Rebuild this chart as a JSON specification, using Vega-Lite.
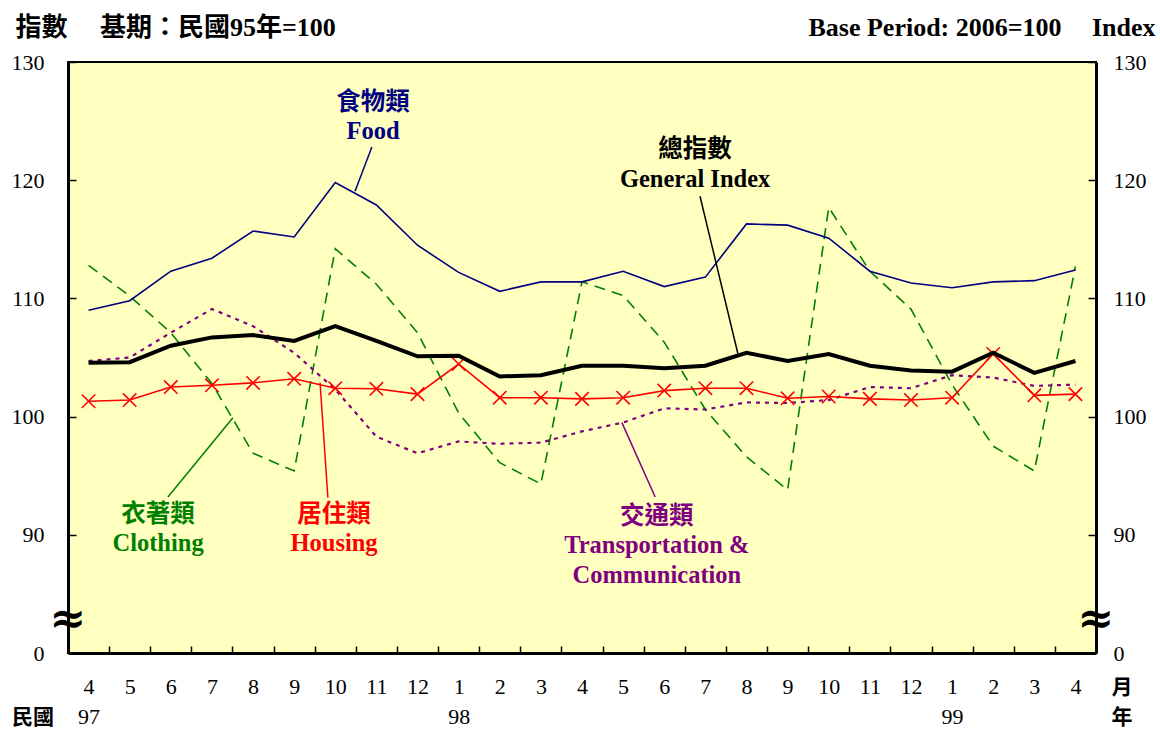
{
  "$schema": "https://vega.github.io/schema/vega-lite/v6.json",
  "width": 1028,
  "height": 591,
  "autosize": {"type": "none"},
  "padding": {"left": 68, "top": 62, "right": 64, "bottom": 78},
  "background": "white",
  "config": {
    "view": {"fill": "#FFFFC0", "stroke": "#000000", "strokeWidth": 2},
    "font": "Liberation Serif",
    "axis": {"grid": false, "labelFont": "Liberation Serif", "labelFontSize": 22, "labelColor": "#000000", "tickColor": "#000000", "tickWidth": 1.5, "domainColor": "#000000", "domainWidth": 3}
  },
  "datasets": {
    "cpi": [
      {"i": 0, "food": 109.0, "general": 104.55, "clothing": 112.8, "housing": 101.3, "transport": 104.7},
      {"i": 1, "food": 109.8, "general": 104.6, "clothing": 110.2, "housing": 101.4, "transport": 105.0},
      {"i": 2, "food": 112.3, "general": 106.0, "clothing": 107.1, "housing": 102.5, "transport": 107.1},
      {"i": 3, "food": 113.4, "general": 106.7, "clothing": 102.8, "housing": 102.65, "transport": 109.1},
      {"i": 4, "food": 115.7, "general": 106.9, "clothing": 96.9, "housing": 102.85, "transport": 107.65},
      {"i": 5, "food": 115.2, "general": 106.4, "clothing": 95.4, "housing": 103.2, "transport": 105.4},
      {"i": 6, "food": 119.8, "general": 107.65, "clothing": 114.2, "housing": 102.4, "transport": 102.3},
      {"i": 7, "food": 117.9, "general": 106.4, "clothing": 111.2, "housing": 102.35, "transport": 98.3},
      {"i": 8, "food": 114.5, "general": 105.1, "clothing": 107.1, "housing": 101.9, "transport": 96.9},
      {"i": 9, "food": 112.2, "general": 105.15, "clothing": 100.3, "housing": 104.45, "transport": 97.9},
      {"i": 10, "food": 110.6, "general": 103.4, "clothing": 96.1, "housing": 101.6, "transport": 97.7},
      {"i": 11, "food": 111.4, "general": 103.5, "clothing": 94.3, "housing": 101.6, "transport": 97.8},
      {"i": 12, "food": 111.4, "general": 104.3, "clothing": 111.4, "housing": 101.5, "transport": 98.75},
      {"i": 13, "food": 112.3, "general": 104.3, "clothing": 110.25, "housing": 101.6, "transport": 99.5},
      {"i": 14, "food": 111.0, "general": 104.1, "clothing": 106.3, "housing": 102.2, "transport": 100.7},
      {"i": 15, "food": 111.8, "general": 104.3, "clothing": 100.6, "housing": 102.4, "transport": 100.6},
      {"i": 16, "food": 116.3, "general": 105.4, "clothing": 96.6, "housing": 102.4, "transport": 101.2},
      {"i": 17, "food": 116.2, "general": 104.7, "clothing": 93.8, "housing": 101.55, "transport": 101.15},
      {"i": 18, "food": 115.1, "general": 105.3, "clothing": 117.7, "housing": 101.7, "transport": 101.4},
      {"i": 19, "food": 112.3, "general": 104.3, "clothing": 112.3, "housing": 101.5, "transport": 102.5},
      {"i": 20, "food": 111.3, "general": 103.9, "clothing": 109.1, "housing": 101.4, "transport": 102.4},
      {"i": 21, "food": 110.9, "general": 103.8, "clothing": 102.7, "housing": 101.6, "transport": 103.5},
      {"i": 22, "food": 111.4, "general": 105.4, "clothing": 97.5, "housing": 105.3, "transport": 103.3},
      {"i": 23, "food": 111.5, "general": 103.7, "clothing": 95.4, "housing": 101.8, "transport": 102.6},
      {"i": 24, "food": 112.4, "general": 104.7, "clothing": 112.7, "housing": 101.9, "transport": 102.7}
    ]
  },
  "layer": [
    {
      "layer": [
        {
          "data": {"name": "cpi"},
          "mark": {"type": "line", "color": "#008000", "strokeWidth": 1.6, "strokeDash": [11, 7]},
          "encoding": {
            "x": {"field": "i", "type": "quantitative", "scale": {"domain": [-0.5, 24.5], "nice": false, "zero": false},
              "axis": {"values": [0,1,2,3,4,5,6,7,8,9,10,11,12,13,14,15,16,17,18,19,20,21,22,23,24],
                "labelExpr": "datum.value == 0 ? ['4', '97'] : datum.value == 9 ? ['1', '98'] : datum.value == 21 ? ['1', '99'] : '' + ((datum.value + 3) % 12 + 1)",
                "tickOffset": 20.56, "labelOffset": -20.56, "tickSize": -7, "labelPadding": 30, "labelBaseline": "top", "labelLineHeight": 30,
                "labelOverlap": false, "labelFlush": false, "labelBound": false, "title": null}},
            "y": {"field": "clothing", "type": "quantitative", "scale": {"domain": [80, 130], "nice": false, "zero": false},
              "axis": {"values": [80, 90, 100, 110, 120, 130], "labelExpr": "datum.value == 80 ? '0' : datum.label",
                "tickSize": -8, "labelPadding": 32, "labelBaseline": "middle",
                "title": "指數\u3000 基期：民國95年=100", "titleAngle": 0, "titleX": -53, "titleY": -35, "titleAlign": "left", "titleBaseline": "middle",
                "titleFont": "Liberation Serif, Noto Sans CJK TC", "titleFontSize": 26, "titleFontWeight": "bold", "titleColor": "#000000"}}
          }
        },
        {
          "data": {"name": "cpi"},
          "mark": {"type": "line", "color": "#800080", "strokeWidth": 2.2, "strokeDash": [4, 5]},
          "encoding": {
            "x": {"field": "i", "type": "quantitative", "scale": {"domain": [-0.5, 24.5], "nice": false, "zero": false}},
            "y": {"field": "transport", "type": "quantitative", "scale": {"domain": [80, 130], "nice": false, "zero": false}}
          }
        },
        {
          "data": {"name": "cpi"},
          "mark": {"type": "line", "color": "#000080", "strokeWidth": 1.6},
          "encoding": {
            "x": {"field": "i", "type": "quantitative", "scale": {"domain": [-0.5, 24.5], "nice": false, "zero": false}},
            "y": {"field": "food", "type": "quantitative", "scale": {"domain": [80, 130], "nice": false, "zero": false}}
          }
        },
        {
          "data": {"name": "cpi"},
          "mark": {"type": "line", "color": "#FF0000", "strokeWidth": 1.6},
          "encoding": {
            "x": {"field": "i", "type": "quantitative", "scale": {"domain": [-0.5, 24.5], "nice": false, "zero": false}},
            "y": {"field": "housing", "type": "quantitative", "scale": {"domain": [80, 130], "nice": false, "zero": false}}
          }
        },
        {
          "data": {"name": "cpi"},
          "mark": {"type": "point", "shape": "M-1,-1L1,1M-1,1L1,-1", "filled": false, "stroke": "#FF0000", "strokeWidth": 1.6, "size": 180, "opacity": 1},
          "encoding": {
            "x": {"field": "i", "type": "quantitative", "scale": {"domain": [-0.5, 24.5], "nice": false, "zero": false}},
            "y": {"field": "housing", "type": "quantitative", "scale": {"domain": [80, 130], "nice": false, "zero": false}}
          }
        },
        {
          "data": {"name": "cpi"},
          "mark": {"type": "line", "color": "#000000", "strokeWidth": 4},
          "encoding": {
            "x": {"field": "i", "type": "quantitative", "scale": {"domain": [-0.5, 24.5], "nice": false, "zero": false}},
            "y": {"field": "general", "type": "quantitative", "scale": {"domain": [80, 130], "nice": false, "zero": false}}
          }
        },
        {
          "data": {"values": [{}]},
          "mark": {"type": "rule", "color": "#000080", "strokeWidth": 1.5},
          "encoding": {
            "x": {"datum": 6.89, "type": "quantitative", "scale": {"domain": [-0.5, 24.5], "nice": false, "zero": false}},
            "y": {"datum": 122.8, "type": "quantitative", "scale": {"domain": [80, 130], "nice": false, "zero": false}},
            "x2": {"datum": 6.48}, "y2": {"datum": 119.07}
          }
        },
        {
          "data": {"values": [{}]},
          "mark": {"type": "rule", "color": "#000000", "strokeWidth": 1.5},
          "encoding": {
            "x": {"datum": 14.87, "type": "quantitative", "scale": {"domain": [-0.5, 24.5], "nice": false, "zero": false}},
            "y": {"datum": 118.64, "type": "quantitative", "scale": {"domain": [80, 130], "nice": false, "zero": false}},
            "x2": {"datum": 15.79}, "y2": {"datum": 105.34}
          }
        },
        {
          "data": {"values": [{}]},
          "mark": {"type": "rule", "color": "#008000", "strokeWidth": 1.5},
          "encoding": {
            "x": {"datum": 1.93, "type": "quantitative", "scale": {"domain": [-0.5, 24.5], "nice": false, "zero": false}},
            "y": {"datum": 93.2, "type": "quantitative", "scale": {"domain": [80, 130], "nice": false, "zero": false}},
            "x2": {"datum": 3.51}, "y2": {"datum": 99.9}
          }
        },
        {
          "data": {"values": [{}]},
          "mark": {"type": "rule", "color": "#FF0000", "strokeWidth": 1.5},
          "encoding": {
            "x": {"datum": 5.63, "type": "quantitative", "scale": {"domain": [-0.5, 24.5], "nice": false, "zero": false}},
            "y": {"datum": 102.86, "type": "quantitative", "scale": {"domain": [80, 130], "nice": false, "zero": false}},
            "x2": {"datum": 5.82}, "y2": {"datum": 93.14}
          }
        },
        {
          "data": {"values": [{}]},
          "mark": {"type": "rule", "color": "#800080", "strokeWidth": 1.5},
          "encoding": {
            "x": {"datum": 12.97, "type": "quantitative", "scale": {"domain": [-0.5, 24.5], "nice": false, "zero": false}},
            "y": {"datum": 99.49, "type": "quantitative", "scale": {"domain": [80, 130], "nice": false, "zero": false}},
            "x2": {"datum": 13.78}, "y2": {"datum": 93.2}
          }
        },
        {
          "data": {"values": [{}]},
          "mark": {"type": "text", "text": ["食物類", "Food"], "font": "Liberation Serif, Noto Sans CJK TC", "fontWeight": "bold", "fontSize": 24.5, "lineHeight": 29, "color": "#000080", "align": "center", "baseline": "middle", "clip": false},
          "encoding": {
            "x": {"datum": 6.92, "type": "quantitative", "scale": {"domain": [-0.5, 24.5], "nice": false, "zero": false}},
            "y": {"datum": 126.53, "type": "quantitative", "scale": {"domain": [80, 130], "nice": false, "zero": false}}
          }
        },
        {
          "data": {"values": [{}]},
          "mark": {"type": "text", "text": ["總指數", "General Index"], "font": "Liberation Serif, Noto Sans CJK TC", "fontWeight": "bold", "fontSize": 24.5, "lineHeight": 30, "color": "#000000", "align": "center", "baseline": "middle", "clip": false},
          "encoding": {
            "x": {"datum": 14.75, "type": "quantitative", "scale": {"domain": [-0.5, 24.5], "nice": false, "zero": false}},
            "y": {"datum": 122.54, "type": "quantitative", "scale": {"domain": [80, 130], "nice": false, "zero": false}}
          }
        },
        {
          "data": {"values": [{}]},
          "mark": {"type": "text", "text": ["衣著類", "Clothing"], "font": "Liberation Serif, Noto Sans CJK TC", "fontWeight": "bold", "fontSize": 24.5, "lineHeight": 29, "color": "#008000", "align": "center", "baseline": "middle", "clip": false},
          "encoding": {
            "x": {"datum": 1.69, "type": "quantitative", "scale": {"domain": [-0.5, 24.5], "nice": false, "zero": false}},
            "y": {"datum": 91.69, "type": "quantitative", "scale": {"domain": [80, 130], "nice": false, "zero": false}}
          }
        },
        {
          "data": {"values": [{}]},
          "mark": {"type": "text", "text": ["居住類", "Housing"], "font": "Liberation Serif, Noto Sans CJK TC", "fontWeight": "bold", "fontSize": 24.5, "lineHeight": 29, "color": "#FF0000", "align": "center", "baseline": "middle", "clip": false},
          "encoding": {
            "x": {"datum": 5.97, "type": "quantitative", "scale": {"domain": [-0.5, 24.5], "nice": false, "zero": false}},
            "y": {"datum": 91.69, "type": "quantitative", "scale": {"domain": [80, 130], "nice": false, "zero": false}}
          }
        },
        {
          "data": {"values": [{}]},
          "mark": {"type": "text", "text": ["交通類", "Transportation &", "Communication"], "font": "Liberation Serif, Noto Sans CJK TC", "fontWeight": "bold", "fontSize": 24.5, "lineHeight": 29.5, "color": "#800080", "align": "center", "baseline": "middle", "clip": false},
          "encoding": {
            "x": {"datum": 13.82, "type": "quantitative", "scale": {"domain": [-0.5, 24.5], "nice": false, "zero": false}},
            "y": {"datum": 91.53, "type": "quantitative", "scale": {"domain": [80, 130], "nice": false, "zero": false}}
          }
        },
        {
          "data": {"values": [{}]},
          "mark": {"type": "text", "text": "民國", "font": "Noto Sans CJK TC", "fontWeight": "bold", "fontSize": 21, "color": "#000000", "align": "center", "baseline": "middle", "clip": false},
          "encoding": {
            "x": {"datum": -1.35, "type": "quantitative", "scale": {"domain": [-0.5, 24.5], "nice": false, "zero": false}},
            "y": {"datum": 74.49, "type": "quantitative", "scale": {"domain": [80, 130], "nice": false, "zero": false}}
          }
        },
        {
          "data": {"values": [{}]},
          "mark": {"type": "text", "text": "月", "font": "Noto Sans CJK TC", "fontWeight": "bold", "fontSize": 21, "color": "#000000", "align": "center", "baseline": "middle", "clip": false},
          "encoding": {
            "x": {"datum": 25.13, "type": "quantitative", "scale": {"domain": [-0.5, 24.5], "nice": false, "zero": false}},
            "y": {"datum": 77.03, "type": "quantitative", "scale": {"domain": [80, 130], "nice": false, "zero": false}}
          }
        },
        {
          "data": {"values": [{}]},
          "mark": {"type": "text", "text": "年", "font": "Noto Sans CJK TC", "fontWeight": "bold", "fontSize": 21, "color": "#000000", "align": "center", "baseline": "middle", "clip": false},
          "encoding": {
            "x": {"datum": 25.13, "type": "quantitative", "scale": {"domain": [-0.5, 24.5], "nice": false, "zero": false}},
            "y": {"datum": 74.49, "type": "quantitative", "scale": {"domain": [80, 130], "nice": false, "zero": false}}
          }
        },
        {
          "data": {"values": [{}]},
          "mark": {"type": "text", "text": "≈", "font": "DejaVu Serif", "fontWeight": "bold", "fontSize": 44, "color": "#000000", "align": "center", "baseline": "middle", "clip": false},
          "encoding": {
            "x": {"datum": -0.5, "type": "quantitative", "scale": {"domain": [-0.5, 24.5], "nice": false, "zero": false}},
            "y": {"datum": 82.8, "type": "quantitative", "scale": {"domain": [80, 130], "nice": false, "zero": false}}
          }
        }
      ]
    },
    {
      "data": {"values": [{}]},
      "mark": {"type": "text", "text": "≈", "font": "DejaVu Serif", "fontWeight": "bold", "fontSize": 44, "color": "#000000", "align": "center", "baseline": "middle", "clip": false},
      "encoding": {
        "x": {"datum": 24.5, "type": "quantitative", "scale": {"domain": [-0.5, 24.5], "nice": false, "zero": false}},
        "y": {"datum": 82.8, "type": "quantitative", "scale": {"domain": [80, 130], "nice": false, "zero": false},
          "axis": {"orient": "right", "values": [80, 90, 100, 110, 120, 130], "labelExpr": "datum.value == 80 ? '0' : datum.label",
            "tickSize": -8, "labelPadding": 25, "labelBaseline": "middle",
            "title": "Base Period: 2006=100\u2003\u2006Index", "titleAngle": 0, "titleX": 59, "titleY": -35, "titleAlign": "right", "titleBaseline": "middle",
            "titleFont": "Liberation Serif", "titleFontSize": 26, "titleFontWeight": "bold", "titleColor": "#000000"}}
      }
    }
  ],
  "resolve": {"scale": {"y": "independent"}, "axis": {"y": "independent"}}
}
